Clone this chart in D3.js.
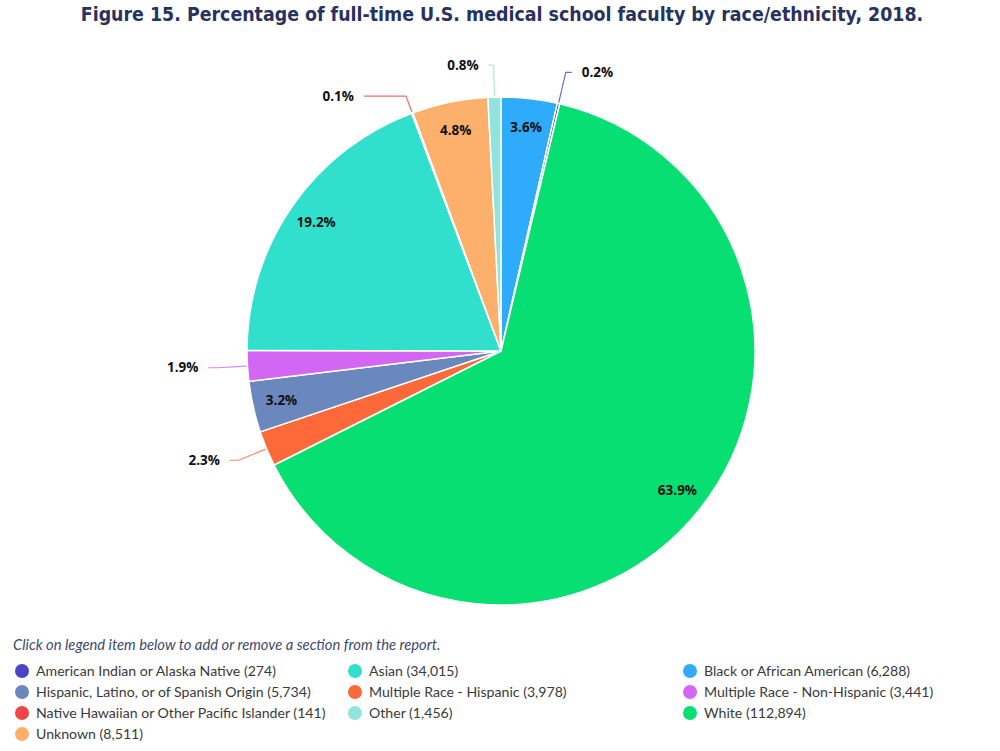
<!DOCTYPE html>
<html>
<head>
<meta charset="utf-8">
<script src="https://cdn.jsdelivr.net/npm/d3@7"></script>
<style>
  html, body { margin: 0; padding: 0; background: #ffffff; }
  svg { display: block; }
</style>
</head>
<body>
<svg id="chart" width="1000" height="751"></svg>
<script>
// ---------- DATA ----------
const titleText = "Figure 15. Percentage of full-time U.S. medical school faculty by race/ethnicity, 2018.";
const noteText = "Click on legend item below to add or remove a section from the report.";

// legend order
const categories = [
  "American Indian or Alaska Native",
  "Asian",
  "Black or African American",
  "Hispanic, Latino, or of Spanish Origin",
  "Multiple Race - Hispanic",
  "Multiple Race - Non-Hispanic",
  "Native Hawaiian or Other Pacific Islander",
  "Other",
  "White",
  "Unknown"
];
const counts = [274, 34015, 6288, 5734, 3978, 3441, 141, 1456, 112894, 8511];
const colors = ["#4b45c4", "#30e0cc", "#2eabfa", "#6a88bd", "#fd6938", "#d466f4", "#f2454a", "#90e4dd", "#07df72", "#fdb06c"];

// clockwise order of slices starting at 12 o'clock
const sliceOrder = [
  "Black or African American",
  "American Indian or Alaska Native",
  "White",
  "Multiple Race - Hispanic",
  "Hispanic, Latino, or of Spanish Origin",
  "Multiple Race - Non-Hispanic",
  "Asian",
  "Native Hawaiian or Other Pacific Islander",
  "Unknown",
  "Other"
];

// ---------- LAYOUT ----------
const svg = d3.select("#chart");
const cx = 501, cy = 351, R = 254;
const insideLabelR = 225;

// outside label leader layout (elbow radius, horizontal run)
const outsideLayout = {
  "American Indian or Alaska Native": { elbowR: 286, run: 6 },
  "Other": { elbowR: 286, run: -5 },
  "Native Hawaiian or Other Pacific Islander": { elbowR: 272, run: -42 },
  "Multiple Race - Non-Hispanic": { elbowR: 284, run: -9 },
  "Multiple Race - Hispanic": { elbowR: 284, run: -9 }
};

function fitText(sel, target, base) {
  const w = sel.node().getComputedTextLength();
  sel.style("font-size", (base * target / w).toFixed(2) + "px");
}

// ---------- TITLE ----------
const title = svg.append("text")
  .attr("x", 502).attr("y", 21)
  .attr("text-anchor", "middle")
  .style("font-family", "'Liberation Sans Narrow', 'DejaVu Sans Condensed', 'Open Sans', sans-serif")
  .style("font-weight", "bold")
  .style("font-size", "20px")
  .style("fill", "#28325f")
  .text(titleText);
fitText(title, 843, 20);

// ---------- PIE ----------
const total = d3.sum(counts);
const sliceData = sliceOrder.map(name => {
  const i = categories.indexOf(name);
  return { name, value: counts[i], color: colors[i] };
});

const pie = d3.pie().sort(null).value(d => d.value);
const arcs = pie(sliceData);
const arc = d3.arc().innerRadius(0).outerRadius(R);

const g = svg.append("g").attr("transform", `translate(${cx},${cy})`);

g.selectAll("path.slice")
  .data(arcs)
  .join("path")
  .attr("class", "slice")
  .attr("d", arc)
  .attr("fill", d => d.data.color)
  .attr("stroke", "#ffffff")
  .attr("stroke-width", 1.5)
  .attr("stroke-linejoin", "round");

const pct = d => (d.data.value / total * 100).toFixed(1) + "%";
const labelFont = "'Open Sans', 'Noto Sans', sans-serif";

arcs.forEach(d => {
  const mid = (d.startAngle + d.endAngle) / 2;
  const sx = Math.sin(mid), sy = -Math.cos(mid);
  const lay = outsideLayout[d.data.name];
  if (!lay) {
    g.append("text")
      .attr("x", sx * insideLabelR)
      .attr("y", sy * insideLabelR)
      .attr("dy", "0.35em")
      .attr("text-anchor", "middle")
      .style("font-family", labelFont)
      .style("font-weight", "bold")
      .style("font-size", "13.5px")
      .style("fill", "#111")
      .text(pct(d));
  } else {
    const p0 = [sx * (R + 1), sy * (R + 1)];
    const p1 = [sx * lay.elbowR, sy * lay.elbowR];
    const p2 = [p1[0] + lay.run, p1[1]];
    g.append("path")
      .attr("d", d3.line()([p0, p1, p2]))
      .attr("fill", "none")
      .attr("stroke", d.data.color)
      .attr("stroke-opacity", 0.8)
      .attr("stroke-width", 1.2);
    const right = lay.run > 0;
    g.append("text")
      .attr("x", p2[0] + (right ? 10 : -10))
      .attr("y", p2[1])
      .attr("dy", "0.35em")
      .attr("text-anchor", right ? "start" : "end")
      .style("font-family", labelFont)
      .style("font-weight", "bold")
      .style("font-size", "13.5px")
      .style("fill", "#111")
      .text(pct(d));
  }
});

// ---------- NOTE ----------
const note = svg.append("text")
  .attr("x", 13).attr("y", 650)
  .style("font-family", "Lato, 'Open Sans', sans-serif")
  .style("font-style", "italic")
  .style("font-size", "14px")
  .style("fill", "#3e4a6a")
  .text(noteText);
fitText(note, 428, 14);

// ---------- LEGEND ----------
const colX = [22, 355, 690];
const rowY = [671, 692, 713, 734];
const fmt = d3.format(",");
const legend = svg.append("g");
let legendSize = null;
categories.forEach((c, i) => {
  const col = i % 3, row = Math.floor(i / 3);
  const item = legend.append("g").attr("transform", `translate(${colX[col]},${rowY[row]})`);
  item.append("circle").attr("r", 7).attr("fill", colors[i]);
  const t = item.append("text")
    .attr("x", 14).attr("dy", "0.35em")
    .style("font-family", "Lato, 'Open Sans', sans-serif")
    .style("font-size", "14px")
    .style("fill", "#3a3a3a")
    .text(`${c} (${fmt(counts[i])})`);
  if (i === 0) {
    const w = t.node().getComputedTextLength();
    legendSize = 14 * 240 / w;
  }
});
legend.selectAll("text").style("font-size", legendSize.toFixed(2) + "px");
</script>
</body>
</html>
